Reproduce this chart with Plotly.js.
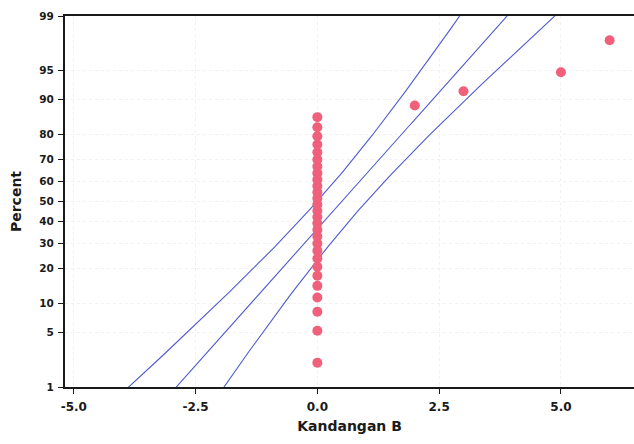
<!DOCTYPE html>
<html><head><meta charset="utf-8">
<script src="https://cdn.plot.ly/plotly-3.0.1.min.js"></script>
<style>html,body{margin:0;padding:0;background:#fff}#chart{width:634px;height:444px}</style>
</head><body><div id="chart"></div>
<script>
// Data: Kandangan B observations (28 zeros, then 2, 3, 5, 6)
const zeroCount = 28;
const otherValues = [2, 3, 5, 6];
const percentTicks = [1, 5, 10, 20, 30, 40, 50, 60, 70, 80, 90, 95, 99];
const xTicks = [-5, -2.5, 0, 2.5, 5];
const xTickText = ["-5.0", "-2.5", "0.0", "2.5", "5.0"];

// inverse normal CDF (Acklam)
function invNorm(p){
  const a=[-3.969683028665376e+01,2.209460984245205e+02,-2.759285104469687e+02,1.383577518672690e+02,-3.066479806614716e+01,2.506628277459239e+00];
  const b=[-5.447609879822406e+01,1.615858368580409e+02,-1.556989798598866e+02,6.680131188771972e+01,-1.328068155288572e+01];
  const c=[-7.784894002430293e-03,-3.223964580411365e-01,-2.400758277161838e+00,-2.549732539343734e+00,4.374664141464968e+00,2.938163982698783e+00];
  const d=[7.784695709041462e-03,3.224671290700398e-01,2.445134137142996e+00,3.754408661907416e+00];
  const pl=0.02425, ph=1-pl; let q,r;
  if(p<pl){q=Math.sqrt(-2*Math.log(p));return (((((c[0]*q+c[1])*q+c[2])*q+c[3])*q+c[4])*q+c[5])/((((d[0]*q+d[1])*q+d[2])*q+d[3])*q+1);}
  if(p<=ph){q=p-0.5;r=q*q;return (((((a[0]*r+a[1])*r+a[2])*r+a[3])*r+a[4])*r+a[5])*q/(((((b[0]*r+b[1])*r+b[2])*r+b[3])*r+b[4])*r+1);}
  q=Math.sqrt(-2*Math.log(1-p));return -(((((c[0]*q+c[1])*q+c[2])*q+c[3])*q+c[4])*q+c[5])/((((d[0]*q+d[1])*q+d[2])*q+d[3])*q+1);
}

const data = Array(zeroCount).fill(0).concat(otherValues).sort((a,b)=>a-b);
const n = data.length;
const zPts = data.map((v,i)=>invNorm((i+1-0.3)/(n+0.4)));
const mean = data.reduce((s,v)=>s+v,0)/n;
const sd = Math.sqrt(data.reduce((s,v)=>s+(v-mean)*(v-mean),0)/(n-1));

// fitted line and 95% confidence band derived from the data
const zs=[]; for(let z=-3.2; z<=3.2001; z+=0.05) zs.push(z);
const fit = zs.map(z=>mean+sd*z);
const half = zs.map(z=>1.96*Math.sqrt(sd*sd/n + z*z*sd*sd/(2*n)));
const lo = fit.map((f,i)=>f-half[i]);
const hi = fit.map((f,i)=>f+half[i]);

const lineStyle = {color:'#4f5cd0', width:1.1};
const traces = [
  {x:lo, y:zs, mode:'lines', line:lineStyle, hoverinfo:'skip'},
  {x:fit, y:zs, mode:'lines', line:lineStyle, hoverinfo:'skip'},
  {x:hi, y:zs, mode:'lines', line:lineStyle, hoverinfo:'skip'},
  {x:data, y:zPts, mode:'markers', marker:{color:'#f0607a', size:10}, cliponaxis:false}
];

const layout = {
  width:634, height:444,
  margin:{l:65, r:0, t:16, b:57},
  paper_bgcolor:'#fff', plot_bgcolor:'#fff',
  showlegend:false,
  xaxis:{
    range:[-5.18, 6.5], tickvals:xTicks, ticktext:xTickText,
    showline:true, linecolor:'#1a1a1a', linewidth:2, mirror:true,
    ticks:'outside', ticklen:5, tickcolor:'#1a1a1a', ticklabelstandoff:3,
    showgrid:true, gridcolor:'#f1f1f1', griddash:'dot', zeroline:false,
    tickfont:{family:'DejaVu Sans', size:12, weight:'bold', color:'#1a1a1a'},
    title:{text:'Kandangan B', standoff:8, font:{family:'DejaVu Sans', size:14, weight:'bold', color:'#1a1a1a'}}
  },
  yaxis:{
    range:[invNorm(0.01), invNorm(0.99)],
    tickvals:percentTicks.map(p=>invNorm(p/100)), ticktext:percentTicks.map(String),
    showline:true, linecolor:'#1a1a1a', linewidth:2,
    ticks:'outside', ticklen:5, tickcolor:'#1a1a1a', ticklabelstandoff:2,
    showgrid:true, gridcolor:'#f1f1f1', griddash:'dot', zeroline:false,
    tickfont:{family:'DejaVu Sans', size:10.5, weight:'bold', color:'#1a1a1a'},
    title:{text:'Percent', standoff:14, font:{family:'DejaVu Sans', size:14, weight:'bold', color:'#1a1a1a'}}
  }
};
Plotly.newPlot('chart', traces, layout, {displayModeBar:false, staticPlot:true});
</script>
</body></html>
